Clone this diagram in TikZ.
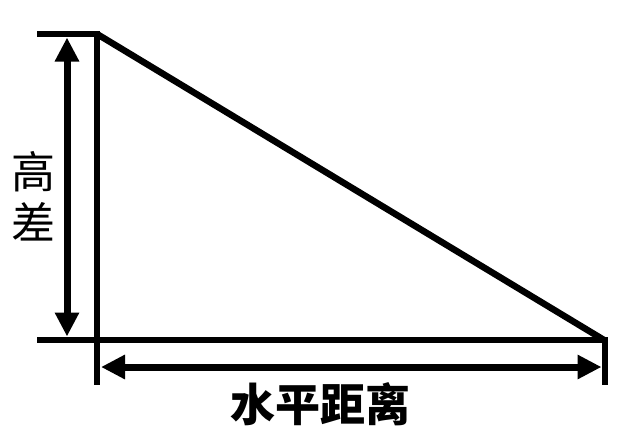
\documentclass[tikz,border=0pt]{standalone}
\usepackage{fontspec}
\newfontfamily\cjk{Noto Sans CJK SC}
\usetikzlibrary{arrows.meta}
\tikzset{
  heavy/.style={line width=6.5pt, line cap=butt},
  dimarrow/.style={line width=7pt, {Triangle[length=24pt,width=23pt]}-{Triangle[length=24pt,width=23pt]}},
  lbl/.style={font=\cjk\fontsize{44pt}{50pt}\selectfont, inner sep=0pt}
}
\begin{document}
\begin{tikzpicture}[x=1pt,y=-1pt]
\useasboundingbox[fill=white] (0,0) rectangle (626,432);
% key points
\coordinate (TLe) at (37,34);
\coordinate (TL) at (97,34);
\coordinate (BLe) at (37,340);
\coordinate (BL) at (97,340);
\coordinate (BR) at (604,340);
\coordinate (BRe) at (608,340);
\coordinate (LT) at (97,31);
\coordinate (LB) at (97,385);
\coordinate (RT) at (605,337);
\coordinate (RB) at (605,385);
\coordinate (VA) at (67,37.5);
\coordinate (VB) at (67,336.5);
\coordinate (HA) at (101,367);
\coordinate (HB) at (601.5,367);
% lines
\draw[heavy] (TLe) -- (TL);
\draw[heavy] (LT) -- (LB);
\draw[heavy] (TL) -- (BR);
\draw[heavy] (BLe) -- (BRe);
\draw[heavy] (RT) -- (RB);
% dimension arrows
\draw[dimarrow] (VA) -- (VB);
\draw[dimarrow] (HA) -- (HB);
% labels
\node[lbl] (gao) at (33,172) {高};
\node[lbl] (cha) at (33,222) {差};
\node[lbl, font=\cjk\bfseries\fontsize{45pt}{50pt}\selectfont] (dist) at (320,404) {水平距离};
\end{tikzpicture}
\end{document}
